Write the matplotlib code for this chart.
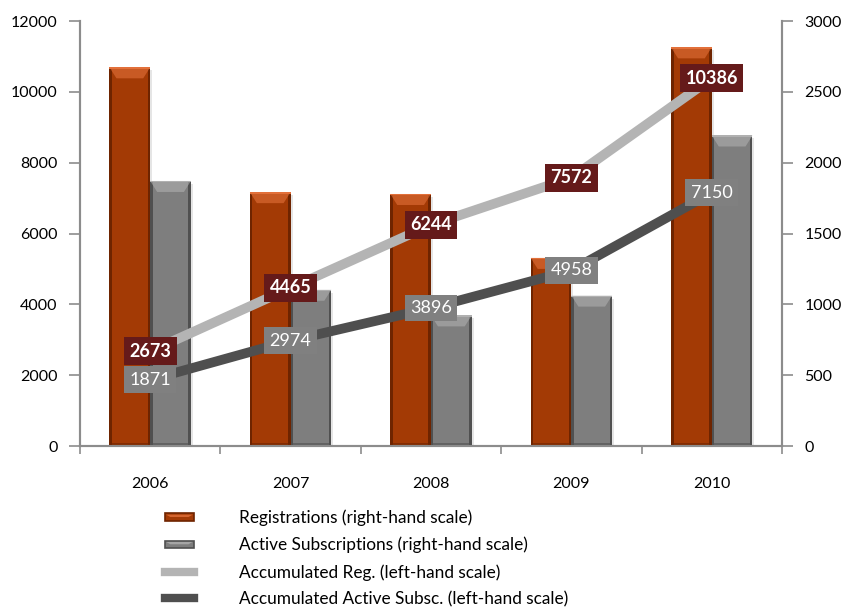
import matplotlib
matplotlib.use("Agg")
import matplotlib.pyplot as plt
import numpy as np
from matplotlib.patches import Polygon, Rectangle
from matplotlib.lines import Line2D
from matplotlib.legend_handler import HandlerPatch

plt.rcParams["font.family"] = ["Lato", "DejaVu Sans"]

years = ["2006", "2007", "2008", "2009", "2010"]
registrations = [2673, 1792, 1779, 1328, 2814]        # right-hand scale
active_subs = [1871, 1103, 922, 1062, 2192]           # right-hand scale
accum_reg = [2673, 4465, 6244, 7572, 10386]           # left-hand scale
accum_active = [1871, 2974, 3896, 4958, 7150]         # left-hand scale

C_REG = "#A33A05"
C_REG_DARK = "#6E2400"
C_REG_LIGHT = "#E2703A"
C_ACT = "#7E7E7E"
C_ACT_DARK = "#505050"
C_ACT_LIGHT = "#B0B0B0"
C_LINE_REG = "#B4B4B4"
C_LINE_ACT = "#4F4F4F"
C_LBL_REG = "#651A1A"
C_LBL_ACT = "#808080"
C_AXIS = "#8C8C8C"

fig = plt.figure(figsize=(8.42, 6.07), dpi=100)
ax = fig.add_axes([0.095, 0.2652, 0.8337, 0.7002])
ax2 = ax.twinx()
ax.set_zorder(ax2.get_zorder() + 1)
ax.patch.set_visible(False)

x = np.arange(len(years))
bw = 0.29


def bevel_bar(axis, xs, heights, color, dark, light):
    bars = axis.bar(xs, heights, width=bw, color=color, edgecolor="none", zorder=2)
    # pixel -> data conversions
    fig.canvas.draw()
    bb = axis.get_window_extent()
    ylo, yhi = axis.get_ylim()
    xlo, xhi = axis.get_xlim()
    dy = (yhi - ylo) / bb.height
    dx = (xhi - xlo) / bb.width
    for b in bars:
        x0, w, h = b.get_x(), b.get_width(), b.get_height()
        # soft shadow
        axis.add_patch(Rectangle((x0 + 2 * dx, -3 * dy), w, h, color="#000000",
                                 alpha=0.10, zorder=1, lw=0))
        # dark side edges
        axis.add_patch(Rectangle((x0, 0), 2.5 * dx, h, color=dark, lw=0, zorder=3))
        axis.add_patch(Rectangle((x0 + w - 2.5 * dx, 0), 2.5 * dx, h, color=dark,
                                 lw=0, zorder=3))
        axis.add_patch(Rectangle((x0, 0), w, 3 * dy, color=dark, lw=0, zorder=3,
                                 alpha=0.6))
        # top bevel
        bh = 11 * dy
        d = 7 * dx
        axis.add_patch(Polygon([(x0, h), (x0 + w, h), (x0 + w - d, h - bh),
                                (x0 + d, h - bh)], closed=True, color=light,
                               lw=0, zorder=3, alpha=0.6))
        axis.add_patch(Rectangle((x0, h - 1.5 * dy), w, 1.5 * dy, color=light,
                                 lw=0, zorder=4))
    return bars


ax2.set_ylim(0, 3000)
ax2.set_xlim(-0.5, len(years) - 0.5)
ax.set_xlim(-0.5, len(years) - 0.5)
ax.set_ylim(0, 12000)

bevel_bar(ax2, x - bw / 2, registrations, C_REG, C_REG_DARK, C_REG_LIGHT)
bevel_bar(ax2, x + bw / 2, active_subs, C_ACT, C_ACT_DARK, C_ACT_LIGHT)

ax.plot(x, accum_reg, color=C_LINE_REG, lw=7, solid_capstyle="butt", zorder=5)
ax.plot(x, accum_active, color=C_LINE_ACT, lw=7, solid_capstyle="butt", zorder=5)

for xi, v in zip(x, accum_reg):
    ax.text(xi, v, f"{v}", ha="center", va="center", color="white",
            fontsize=13, fontweight="bold", zorder=7,
            bbox=dict(boxstyle="square,pad=0.3", fc=C_LBL_REG, ec="none"))
for xi, v in zip(x, accum_active):
    ax.text(xi, v, f"{v}", ha="center", va="center", color="white",
            fontsize=13, zorder=7,
            bbox=dict(boxstyle="square,pad=0.3", fc=C_LBL_ACT, ec="none"))

# axes styling
for a in (ax, ax2):
    a.spines["top"].set_visible(False)
    for s in ("left", "right", "bottom"):
        a.spines[s].set_color(C_AXIS)
        a.spines[s].set_linewidth(1.5)
ax.set_yticks(np.arange(0, 12001, 2000))
ax2.set_yticks(np.arange(0, 3001, 500))
ax.tick_params(axis="y", direction="out", length=8, width=1.2, color=C_AXIS,
               labelsize=11.5, pad=8)
ax2.tick_params(axis="y", direction="out", length=8, width=1.2, color=C_AXIS,
                labelsize=11.5, pad=8)
ax.set_xticks(x)
ax.set_xticklabels(years)
ax.set_xticks(np.arange(-0.5, len(years), 1.0), minor=True)
ax.tick_params(axis="x", which="major", length=0, labelsize=11.5, pad=22)
ax.tick_params(axis="x", which="minor", direction="out", length=6, width=1.2,
               color=C_AXIS)


class BevelHandler(HandlerPatch):
    def __init__(self, color, dark, light):
        super().__init__()
        self.c, self.d, self.l = color, dark, light

    def create_artists(self, legend, orig_handle, xdescent, ydescent, width,
                       height, fontsize, trans):
        h = height * 0.62
        y0 = (height - h) / 2 - ydescent
        x0 = -xdescent
        base = Rectangle((x0, y0), width, h, fc=self.c, ec=self.d, lw=1.2,
                         transform=trans)
        top = Polygon([(x0 + 1, y0 + h - 1), (x0 + width - 1, y0 + h - 1),
                       (x0 + width - 4, y0 + h * 0.5), (x0 + 4, y0 + h * 0.5)],
                      closed=True, fc=self.l, ec="none", alpha=0.8,
                      transform=trans)
        return [base, top]


h_reg = Rectangle((0, 0), 1, 1)
h_act = Rectangle((0, 0), 1, 1)
handles = [h_reg, h_act,
           Line2D([], [], color=C_LINE_REG, lw=6),
           Line2D([], [], color=C_LINE_ACT, lw=6)]
labels = ["Registrations (right-hand scale)",
          "Active Subscriptions (right-hand scale)",
          "Accumulated Reg. (left-hand scale)",
          "Accumulated Active Subsc. (left-hand scale)"]
fig.legend(handles, labels, loc="upper left", bbox_to_anchor=(0.1875, 0.172),
           frameon=False, fontsize=12.4, handlelength=1.7, handletextpad=2.6,
           labelspacing=0.62, borderaxespad=0,
           handler_map={h_reg: BevelHandler(C_REG, C_REG_DARK, C_REG_LIGHT),
                        h_act: BevelHandler(C_ACT, C_ACT_DARK, C_ACT_LIGHT)})

fig.savefig("out.png", dpi=100)
